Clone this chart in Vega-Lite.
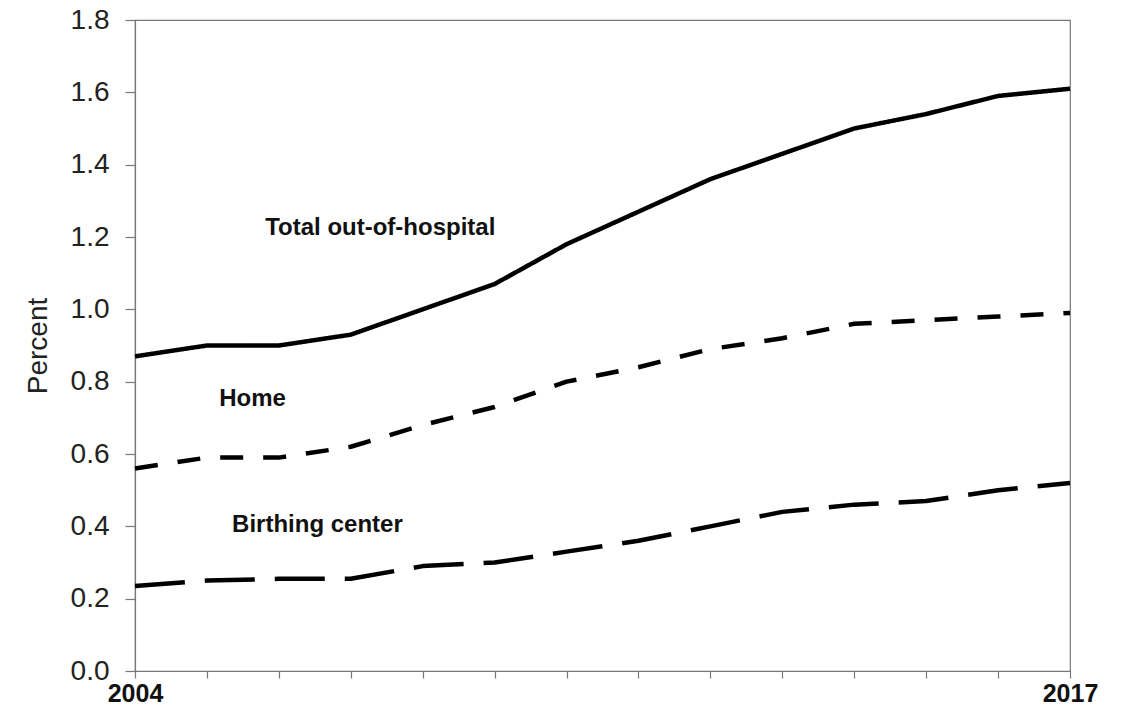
{
  "$schema": "https://vega.github.io/schema/vega-lite/v6.json",
  "width": 935,
  "height": 651,
  "autosize": {"type": "none"},
  "padding": {"left": 135, "top": 20, "right": 67, "bottom": 44},
  "background": "white",
  "config": {
    "font": "Liberation Sans",
    "view": {"stroke": "#777777", "strokeWidth": 1.2},
    "axis": {"grid": false, "domainColor": "#777777", "tickColor": "#777777", "domainWidth": 1.2, "tickWidth": 1.2, "labelColor": "#222222", "titleColor": "#222222"}
  },
  "datasets": {
    "series": [
      {"year": 2004, "series": "Total out-of-hospital", "value": 0.87},
      {"year": 2005, "series": "Total out-of-hospital", "value": 0.90},
      {"year": 2006, "series": "Total out-of-hospital", "value": 0.90},
      {"year": 2007, "series": "Total out-of-hospital", "value": 0.93},
      {"year": 2008, "series": "Total out-of-hospital", "value": 1.00},
      {"year": 2009, "series": "Total out-of-hospital", "value": 1.07},
      {"year": 2010, "series": "Total out-of-hospital", "value": 1.18},
      {"year": 2011, "series": "Total out-of-hospital", "value": 1.27},
      {"year": 2012, "series": "Total out-of-hospital", "value": 1.36},
      {"year": 2013, "series": "Total out-of-hospital", "value": 1.43},
      {"year": 2014, "series": "Total out-of-hospital", "value": 1.50},
      {"year": 2015, "series": "Total out-of-hospital", "value": 1.54},
      {"year": 2016, "series": "Total out-of-hospital", "value": 1.59},
      {"year": 2017, "series": "Total out-of-hospital", "value": 1.61},
      {"year": 2004, "series": "Home", "value": 0.56},
      {"year": 2005, "series": "Home", "value": 0.59},
      {"year": 2006, "series": "Home", "value": 0.59},
      {"year": 2007, "series": "Home", "value": 0.62},
      {"year": 2008, "series": "Home", "value": 0.68},
      {"year": 2009, "series": "Home", "value": 0.73},
      {"year": 2010, "series": "Home", "value": 0.80},
      {"year": 2011, "series": "Home", "value": 0.84},
      {"year": 2012, "series": "Home", "value": 0.89},
      {"year": 2013, "series": "Home", "value": 0.92},
      {"year": 2014, "series": "Home", "value": 0.96},
      {"year": 2015, "series": "Home", "value": 0.97},
      {"year": 2016, "series": "Home", "value": 0.98},
      {"year": 2017, "series": "Home", "value": 0.99},
      {"year": 2004, "series": "Birthing center", "value": 0.235},
      {"year": 2005, "series": "Birthing center", "value": 0.25},
      {"year": 2006, "series": "Birthing center", "value": 0.255},
      {"year": 2007, "series": "Birthing center", "value": 0.255},
      {"year": 2008, "series": "Birthing center", "value": 0.29},
      {"year": 2009, "series": "Birthing center", "value": 0.30},
      {"year": 2010, "series": "Birthing center", "value": 0.33},
      {"year": 2011, "series": "Birthing center", "value": 0.36},
      {"year": 2012, "series": "Birthing center", "value": 0.40},
      {"year": 2013, "series": "Birthing center", "value": 0.44},
      {"year": 2014, "series": "Birthing center", "value": 0.46},
      {"year": 2015, "series": "Birthing center", "value": 0.47},
      {"year": 2016, "series": "Birthing center", "value": 0.50},
      {"year": 2017, "series": "Birthing center", "value": 0.52}
    ],
    "labels": [
      {"year": 2005.81, "value": 1.225, "text": "Total out-of-hospital"},
      {"year": 2005.17, "value": 0.752, "text": "Home"},
      {"year": 2005.35, "value": 0.404, "text": "Birthing center"}
    ]
  },
  "encoding": {
    "x": {
      "field": "year", "type": "quantitative",
      "scale": {"domain": [2004, 2017], "nice": false, "zero": false},
      "axis": {
        "title": null, "values": [2004,2005,2006,2007,2008,2009,2010,2011,2012,2013,2014,2015,2016,2017],
        "format": "d", "labelExpr": "datum.value == 2004 || datum.value == 2017 ? datum.label : ''",
        "labelFontSize": 25, "labelFontWeight": "bold", "labelColor": "#111111", "tickSize": 7, "labelPadding": 3, "labelFlush": false, "labelOverlap": false
      }
    },
    "y": {
      "field": "value", "type": "quantitative",
      "scale": {"domain": [0, 1.8], "nice": false},
      "axis": {
        "title": "Percent", "values": [0,0.2,0.4,0.6,0.8,1.0,1.2,1.4,1.6,1.8], "format": ".1f",
        "labelFontSize": 28, "labelFontWeight": "normal", "tickSize": 10, "labelPadding": 16,
        "titleFontSize": 28, "titleFontWeight": "normal", "titlePadding": 18
      }
    }
  },
  "layer": [
    {
      "data": {"name": "series"},
      "mark": {"type": "line", "strokeWidth": 4.5, "color": "black", "strokeCap": "butt", "strokeJoin": "round"},
      "encoding": {
        "detail": {"field": "series"},
        "strokeDash": {
          "field": "series", "type": "nominal",
          "scale": {"domain": ["Total out-of-hospital", "Home", "Birthing center"], "range": [[1, 0], [23, 20], [50, 20]]},
          "legend": null
        }
      }
    },
    {
      "data": {"name": "labels"},
      "mark": {"type": "text", "align": "left", "baseline": "middle", "fontSize": 24, "fontWeight": "bold", "color": "#111111"},
      "encoding": {"text": {"field": "text"}}
    }
  ]
}
